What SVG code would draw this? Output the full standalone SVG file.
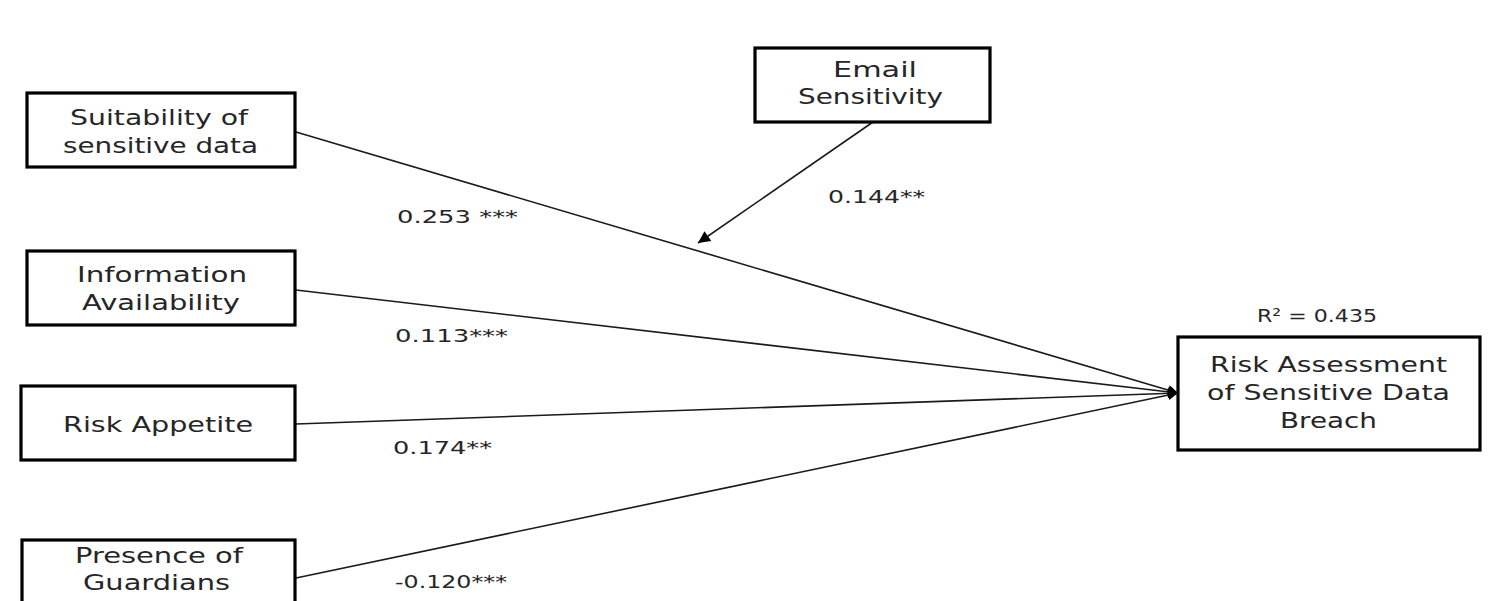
<svg xmlns="http://www.w3.org/2000/svg" width="1510" height="601" viewBox="0 0 1510 601">
<style>
.box{fill:#fff;stroke:#000;stroke-width:3.2}
.t{font-family:"DejaVu Sans",Verdana,sans-serif;font-size:21px;fill:#262626}
.lbl{font-family:"DejaVu Sans",Verdana,sans-serif;font-size:18px;fill:#262626}
.c{fill:none;stroke:#1a1a1a;stroke-width:1.6}
</style>
<defs>
<marker id="ah" viewBox="0 0 10 10" refX="10" refY="5" markerWidth="13" markerHeight="10" markerUnits="userSpaceOnUse" orient="auto">
<path d="M0,0 L10,5 L0,10 z" fill="#000"/>
</marker>
<marker id="ah2" viewBox="0 0 10 10" refX="10" refY="5" markerWidth="17" markerHeight="12" markerUnits="userSpaceOnUse" orient="auto">
<path d="M0,0 L10,5 L0,10 z" fill="#000"/>
</marker>
</defs>
<rect width="1510" height="601" fill="#fff"/>
<g id="connectors">
<line class="c" x1="296" y1="132" x2="1178" y2="393" marker-end="url(#ah)"/>
<line class="c" x1="296" y1="290" x2="1178" y2="393" marker-end="url(#ah)"/>
<line class="c" x1="296" y1="424" x2="1178" y2="393" marker-end="url(#ah)"/>
<line class="c" x1="296" y1="578" x2="1178" y2="393" marker-end="url(#ah)"/>
<line class="c" x1="873" y1="122" x2="698" y2="243" marker-end="url(#ah2)"/>
</g>
<g id="labels">
<text class="lbl" x="397" y="223" textLength="121" lengthAdjust="spacingAndGlyphs">0.253 ***</text>
<text class="lbl" x="395" y="342" textLength="113" lengthAdjust="spacingAndGlyphs">0.113***</text>
<text class="lbl" x="393" y="454" textLength="99" lengthAdjust="spacingAndGlyphs">0.174**</text>
<text class="lbl" x="395" y="588" textLength="112" lengthAdjust="spacingAndGlyphs">-0.120***</text>
<text class="lbl" x="828" y="203" textLength="97" lengthAdjust="spacingAndGlyphs">0.144**</text>
<text class="lbl" x="1257" y="322" textLength="120" lengthAdjust="spacingAndGlyphs">R² = 0.435</text>
</g>
<g id="suitability">
<rect class="box" x="27" y="93" width="268" height="74"/>
<text class="t" x="70" y="125" textLength="178" lengthAdjust="spacingAndGlyphs">Suitability of</text>
<text class="t" x="63" y="153" textLength="195" lengthAdjust="spacingAndGlyphs">sensitive data</text>
</g>
<g id="email">
<rect class="box" x="755" y="48" width="235" height="74"/>
<text class="t" x="833" y="77" textLength="84" lengthAdjust="spacingAndGlyphs">Email</text>
<text class="t" x="798" y="104" textLength="145" lengthAdjust="spacingAndGlyphs">Sensitivity</text>
</g>
<g id="information">
<rect class="box" x="27" y="251" width="268" height="74"/>
<text class="t" x="77" y="282" textLength="170" lengthAdjust="spacingAndGlyphs">Information</text>
<text class="t" x="82" y="310" textLength="158" lengthAdjust="spacingAndGlyphs">Availability</text>
</g>
<g id="appetite">
<rect class="box" x="21" y="386" width="274" height="74"/>
<text class="t" x="63" y="432" textLength="190" lengthAdjust="spacingAndGlyphs">Risk Appetite</text>
</g>
<g id="guardians">
<rect class="box" x="22" y="540" width="273" height="80"/>
<text class="t" x="75" y="563" textLength="168" lengthAdjust="spacingAndGlyphs">Presence of</text>
<text class="t" x="83" y="590" textLength="147" lengthAdjust="spacingAndGlyphs">Guardians</text>
</g>
<g id="risk">
<rect class="box" x="1178" y="337" width="302" height="113"/>
<text class="t" x="1210" y="372" textLength="237" lengthAdjust="spacingAndGlyphs">Risk Assessment</text>
<text class="t" x="1207" y="400" textLength="243" lengthAdjust="spacingAndGlyphs">of Sensitive Data</text>
<text class="t" x="1280" y="428" textLength="97" lengthAdjust="spacingAndGlyphs">Breach</text>
</g>
</svg>
